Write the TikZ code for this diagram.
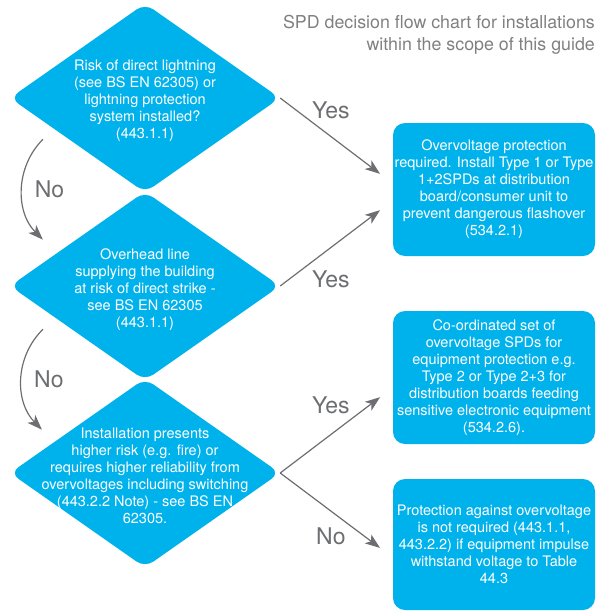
\documentclass[tikz,border=0pt]{standalone}
\usepackage{fontspec}
\setmainfont{TeX Gyre Heros}
\usetikzlibrary{shapes.geometric,arrows.meta}
\definecolor{spdblue}{HTML}{00B2EC}
\definecolor{arrowgray}{HTML}{6D6E71}
\definecolor{titlegray}{HTML}{808080}

\begin{document}
\begin{tikzpicture}[
        x=1pt, y=-1pt,
        decision/.style={diamond, fill=spdblue, rounded corners=10pt, minimum width=270pt, minimum height=189pt, inner sep=0pt},
        dtext/.style={text=white, align=center, font=\fontsize{14.5}{17}\selectfont},
        result/.style={rectangle, fill=spdblue, rounded corners=12pt, minimum width=202pt, minimum height=133pt, inner sep=0pt, text=white, align=center, font=\fontsize{14.5}{17}\selectfont},
        title/.style={text=titlegray, align=right, inner sep=0pt, font=\fontsize{17.8}{22}\selectfont},
        lbl/.style={text=arrowgray, inner sep=0pt, font=\fontsize{23}{23}\selectfont},
        arrow/.style={-{Stealth[length=15pt, width=11pt, inset=4pt]}, arrowgray, line width=1.2pt}
    ]
        \useasboundingbox (0,0) rectangle (600,611);

        % Title
        \node[title, anchor=north east] (title) at (595,15) {SPD decision flow chart for installations\\within the scope of this guide};

        % Decisions
        \node[decision] (d1) at (145,98) {};
        \node[dtext] at ([yshift=-3pt]d1.center) {Risk of direct lightning\\(see BS EN 62305) or\\lightning protection\\system installed?\\(443.1.1)};

        \node[decision] (d2) at (145,286) {};
        \node[dtext] at ([yshift=-4pt]d2.center) {Overhead line\\supplying the building\\at risk of direct strike -\\see BS EN 62305\\(443.1.1)};

        \node[decision] (d3) at (145,473) {};
        \node[dtext] at ([yshift=-3pt]d3.center) {Installation presents\\higher risk (e.g. fire) or\\requires higher reliability from\\overvoltages including switching\\(443.2.2 Note) - see BS EN\\62305.};

        % Results
        \node[result] (b1) at (494,189.5) {Overvoltage protection\\required. Install Type 1 or Type\\1+2SPDs at distribution\\board/consumer unit to\\prevent dangerous flashover\\(534.2.1)};

        \node[result] (b2) at (494,377.5) {Co-ordinated set of\\overvoltage SPDs for\\equipment protection e.g.\\Type 2 or Type 2+3 for\\distribution boards feeding\\sensitive electronic equipment\\(534.2.6).};

        \node[result, minimum height=131pt] (b3) at (494,544.5) {Protection against overvoltage\\is not required (443.1.1,\\443.2.2) if equipment impulse\\withstand voltage to Table\\44.3};

        % Arrows
        \draw[arrow, shorten >=16pt] (d1.east) -- node[lbl, pos=0.45, above=17pt] {Yes} ([yshift=6pt]b1.west);
        \draw[arrow, shorten >=16pt] (d2.east) -- node[lbl, pos=0.45, below=23pt] {Yes} ([yshift=-11pt]b1.west);
        \draw[arrow, shorten >=16pt] (d3.east) -- node[lbl, pos=0.45, above=20pt] {Yes} ([yshift=-10pt]b2.west);
        \draw[arrow, shorten >=16pt] (d3.east) -- node[lbl, pos=0.45, below=16pt] {No} ([yshift=-13pt]b3.west);

        \draw[arrow] ([xshift=-34.5pt, yshift=6pt]d1.south west) to[bend right=45] node[lbl, midway, right=12pt] {No} ([xshift=-34.5pt, yshift=-1pt]d2.north west);
        \draw[arrow] ([xshift=-34.5pt, yshift=4pt]d2.south west) to[bend right=45] node[lbl, midway, right=12pt] {No} ([xshift=-35.5pt, yshift=-4pt]d3.north west);
    \end{tikzpicture}
\end{document}
